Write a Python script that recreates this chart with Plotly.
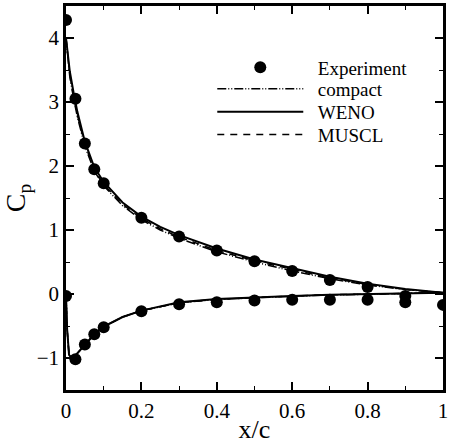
import plotly.graph_objects as go

# Experiment data
exp_x = [0, 0.025, 0.05, 0.075, 0.1, 0.2, 0.3, 0.4, 0.5, 0.6, 0.7, 0.8, 0.9,
         0, 0.025, 0.05, 0.075, 0.1, 0.2, 0.3, 0.4, 0.5, 0.6, 0.7, 0.8, 0.9, 1.0]
exp_cp = [4.28, 3.05, 2.35, 1.95, 1.73, 1.19, 0.9, 0.68, 0.51, 0.36, 0.22, 0.11, -0.03,
          -0.03, -1.02, -0.79, -0.63, -0.52, -0.27, -0.16, -0.13, -0.1, -0.09, -0.09, -0.09, -0.13, -0.17]

# Upper surface curves
up_x = [0, 0.005, 0.01, 0.02, 0.03, 0.05, 0.075, 0.1, 0.15, 0.2, 0.25, 0.3,
        0.4, 0.5, 0.6, 0.7, 0.8, 0.9, 1.0]
weno_up = [4.0, 3.72, 3.48, 3.15, 2.85, 2.38, 1.98, 1.75, 1.43, 1.21, 1.05, 0.92,
           0.71, 0.54, 0.4, 0.27, 0.16, 0.08, 0.02]
compact_up = [4.0, 3.66, 3.4, 3.06, 2.77, 2.31, 1.92, 1.69, 1.38, 1.16, 1.0, 0.87,
              0.66, 0.5, 0.36, 0.24, 0.14, 0.07, 0.02]
muscl_up = [4.0, 3.68, 3.43, 3.09, 2.8, 2.34, 1.94, 1.71, 1.4, 1.18, 1.02, 0.89,
            0.68, 0.52, 0.38, 0.25, 0.15, 0.07, 0.02]

# Lower surface curves
lo_x = [0, 0.003, 0.008, 0.015, 0.025, 0.04, 0.05, 0.075, 0.1, 0.15, 0.2, 0.3,
        0.4, 0.5, 0.6, 0.7, 0.8, 0.9, 1.0]
weno_lo = [0.0, -0.55, -0.95, -1.0, -0.96, -0.86, -0.79, -0.63, -0.51, -0.36, -0.26, -0.13,
           -0.08, -0.05, -0.03, -0.01, 0.0, 0.01, 0.02]
compact_lo = [0.0, -0.55, -0.95, -1.0, -0.96, -0.86, -0.79, -0.63, -0.51, -0.36, -0.26, -0.14,
              -0.085, -0.055, -0.035, -0.015, 0.0, 0.01, 0.02]
muscl_lo = [0.0, -0.55, -0.95, -1.0, -0.96, -0.86, -0.79, -0.63, -0.51, -0.36, -0.26, -0.135,
            -0.082, -0.052, -0.032, -0.012, 0.0, 0.01, 0.02]

x_ticks = [0, 0.2, 0.4, 0.6, 0.8, 1]
x_labels = ["0", "0.2", "0.4", "0.6", "0.8", "1"]
y_ticks = [-1, 0, 1, 2, 3, 4]

FONT = "Liberation Serif"
compact_dash = "9px,2px,1px,2px,1px,2px"
muscl_dash = "7px,6px"
PAD = "\u00a0\u00a0"

fig = go.Figure()
fig.add_trace(go.Scatter(x=exp_x, y=exp_cp, mode="markers", name=PAD + "Experiment",
                         marker=dict(color="black", size=12, symbol="circle"),
                         legend="legend"))
fig.add_trace(go.Scatter(x=up_x, y=compact_up, mode="lines", name=PAD + "compact",
                         line=dict(color="black", width=1.5, dash=compact_dash),
                         legendgroup="c", legend="legend2"))
fig.add_trace(go.Scatter(x=up_x, y=weno_up, mode="lines", name=PAD + "WENO",
                         line=dict(color="black", width=2), legendgroup="w",
                         legend="legend3"))
fig.add_trace(go.Scatter(x=up_x, y=muscl_up, mode="lines", name=PAD + "MUSCL",
                         line=dict(color="black", width=1.5, dash=muscl_dash),
                         legendgroup="m", legend="legend4"))
fig.add_trace(go.Scatter(x=lo_x, y=compact_lo, mode="lines", showlegend=False,
                         line=dict(color="black", width=1.5, dash=compact_dash),
                         legendgroup="c"))
fig.add_trace(go.Scatter(x=lo_x, y=muscl_lo, mode="lines", showlegend=False,
                         line=dict(color="black", width=1.5, dash=muscl_dash),
                         legendgroup="m"))
fig.add_trace(go.Scatter(x=lo_x, y=weno_lo, mode="lines", showlegend=False,
                         line=dict(color="black", width=2), legendgroup="w"))

axis_common = dict(showgrid=False, zeroline=False, showline=True, linecolor="black",
                   linewidth=2.5, mirror="ticks", ticks="inside", ticklen=8, tickwidth=1.5,
                   tickcolor="black", tickfont=dict(family=FONT, size=21, color="black"))

fig.update_xaxes(range=[0, 1], tickvals=x_ticks, ticktext=x_labels,
                 minor=dict(ticks="inside", ticklen=4, tickwidth=1, tickcolor="black", dtick=0.1, tick0=0),
                 title=dict(text="x/c", font=dict(family=FONT, size=26, color="black"), standoff=0),
                 **axis_common)
fig.update_yaxes(range=[-1.5, 4.5], tickvals=y_ticks,
                 minor=dict(ticks="inside", ticklen=4, tickwidth=1, tickcolor="black", dtick=0.5, tick0=0),
                 title=dict(text="C<sub>p</sub>", font=dict(family=FONT, size=28, color="black"), standoff=6),
                 **axis_common)

def leg(y):
    return dict(x=0.388, y=y, xanchor="left", yanchor="middle",
                bgcolor="rgba(0,0,0,0)", font=dict(family=FONT, size=19, color="black"),
                itemwidth=86)

fig.update_layout(
    width=451, height=444,
    margin=dict(l=66, r=3, t=5, b=51),
    plot_bgcolor="white", paper_bgcolor="white",
    font=dict(family=FONT, color="black"),
    legend=leg(0.840), legend2=leg(0.784), legend3=leg(0.724), legend4=leg(0.665),
)

fig.write_html("out.html")
